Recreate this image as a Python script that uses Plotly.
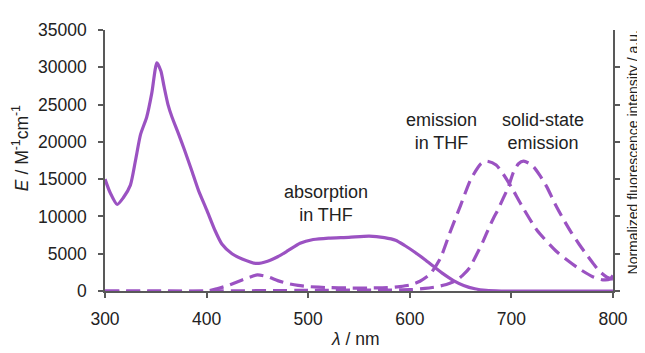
import plotly.graph_objects as go

# ---- data ----
abs_wl = [300, 305, 312, 318, 325, 330, 335, 341, 346, 351, 355, 358, 362, 366, 372, 378,
          385, 392, 400, 408, 415, 425, 435, 449, 460, 470, 480, 492, 505, 520, 540, 560,
          575, 586, 595, 605, 615, 623, 633, 643, 653, 664, 675, 690, 720, 760, 800]
abs_eps = [15000, 13200, 11600, 12500, 14200, 17500, 21000, 23300, 26500, 30600, 29500, 27500,
           25000, 23300, 21200, 19000, 16300, 13500, 10900, 8200, 6300, 5000, 4300, 3700, 4000,
           4600, 5400, 6400, 6900, 7100, 7200, 7350, 7150, 6800, 6100, 5200, 4200, 3350, 2300,
           1400, 750, 300, 80, 0, 0, 0, 0]

thf_wl = [300, 350, 400, 410, 420, 430, 440, 450, 460, 470, 480, 490, 500, 520, 540, 560, 580,
          590, 600, 610, 620, 630, 640, 650, 660, 670, 676, 685, 692, 700, 710, 725, 745, 765,
          780, 790, 797, 800]
thf_em = [0, 0, 0, 0.017, 0.04, 0.07, 0.10, 0.124, 0.11, 0.08, 0.057, 0.043, 0.034, 0.026,
          0.023, 0.023, 0.026, 0.034, 0.046, 0.075, 0.13, 0.25, 0.46, 0.66, 0.86, 0.98, 1.0,
          0.97, 0.90, 0.80, 0.66, 0.47, 0.30, 0.18, 0.11, 0.086, 0.092, 0.12]

ss_wl = [300, 400, 500, 600, 615, 626, 636, 646, 652, 659, 665, 672, 677, 682, 687, 692, 697,
         702, 707, 712, 717, 722, 728, 735, 743, 751, 759, 767, 774, 781, 787, 794, 800]
ss_em = [0, 0, 0.005, 0.01, 0.02, 0.032, 0.05, 0.082, 0.12, 0.18, 0.27, 0.38, 0.47, 0.555,
         0.63, 0.715, 0.80, 0.915, 0.98, 1.0, 0.985, 0.955, 0.89, 0.80, 0.67, 0.555, 0.45,
         0.356, 0.28, 0.207, 0.15, 0.106, 0.09]

x_ticks = [300, 400, 500, 600, 700, 800]
y_ticks = [0, 5000, 10000, 15000, 20000, 25000, 30000, 35000]
Y2MAX = 2.01

PURPLE = "#9b52c2"
AXC = "#595959"
FONT = "Liberation Sans, Arial, sans-serif"

fig = go.Figure()
fig.add_trace(go.Scatter(x=abs_wl, y=abs_eps, mode="lines",
                         line=dict(color=PURPLE, width=3.2, shape="spline", smoothing=0.6),
                         showlegend=False))
fig.add_trace(go.Scatter(x=thf_wl, y=thf_em, mode="lines", yaxis="y2",
                         line=dict(color=PURPLE, width=3.2, dash="14px,7px", shape="spline", smoothing=0.6),
                         showlegend=False))
fig.add_trace(go.Scatter(x=ss_wl, y=ss_em, mode="lines", yaxis="y2",
                         line=dict(color=PURPLE, width=3.2, dash="14px,7px", shape="spline", smoothing=0.6),
                         showlegend=False))

fig.update_layout(
    width=637, height=345,
    margin=dict(l=97, r=32, t=14, b=62),
    paper_bgcolor="white", plot_bgcolor="white",
    font=dict(family=FONT, size=17.5, color="#222222"),
    xaxis=dict(range=[300, 800], tickvals=x_ticks, showgrid=False, zeroline=False,
               showline=True, linecolor=AXC, linewidth=1.5, ticks="outside", ticklen=5,
               tickcolor=AXC, tickwidth=1.5, ticklabelstandoff=6),
    yaxis=dict(range=[0, 35000], tickvals=y_ticks, tickformat="d", showgrid=False, zeroline=False,
               showline=True, linecolor=AXC, linewidth=1.5, ticks="outside", ticklen=5,
               tickcolor=AXC, tickwidth=1.5, ticklabelstandoff=8),
    yaxis2=dict(range=[0, Y2MAX], overlaying="y", side="right", anchor="x",
                tickvals=[k * Y2MAX / 7 for k in range(7)], showticklabels=False,
                showgrid=False, zeroline=False, showline=True, linecolor=AXC, linewidth=1.5,
                ticks="outside", ticklen=5, tickcolor=AXC, tickwidth=1.5),
    annotations=[
        dict(text="<i>E</i> / M<sup>-1</sup>cm<sup>-1</sup>", xref="paper", yref="paper",
             x=-0.167, y=0.548, textangle=-90, showarrow=False, xanchor="center", yanchor="middle"),
        dict(text="<i>λ</i> / nm", xref="paper", yref="paper", x=0.494, y=-0.182,
             showarrow=False, xanchor="center", yanchor="middle"),
        dict(text="Normalized fluorescence intensity / a.u.", xref="paper", yref="paper",
             x=1.039, y=0.53, textangle=-90, showarrow=False, font=dict(size=14),
             xanchor="center", yanchor="middle"),
        dict(text="absorption<br>in THF", x=518, y=11800, xref="x", yref="y", showarrow=False,
             font=dict(size=18)),
        dict(text="emission<br>in THF", x=631, y=21340, xref="x", yref="y", showarrow=False,
             font=dict(size=18)),
        dict(text="solid-state<br>emission", x=731, y=21340, xref="x", yref="y", showarrow=False,
             font=dict(size=18)),
    ],
)

fig.write_html("out.html")
